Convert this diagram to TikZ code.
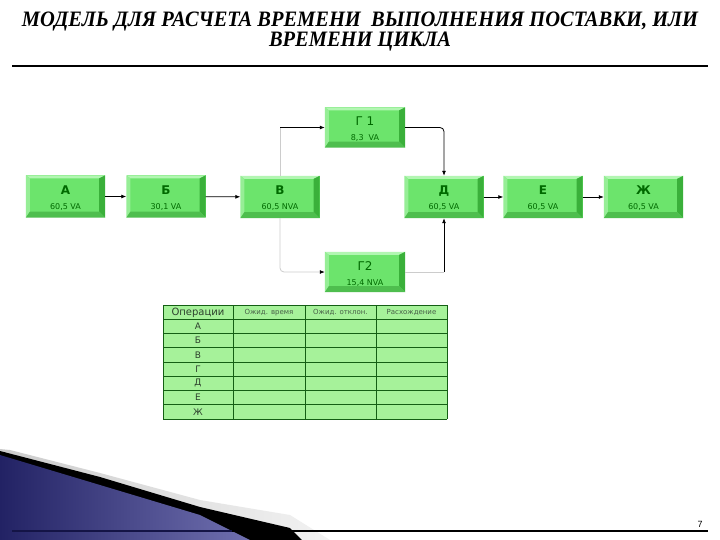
\documentclass[tikz,border=0pt]{standalone}
\usepackage{fontspec}
\setmainfont{Liberation Serif}
\newfontfamily\boxfont{DejaVu Sans}
\newfontfamily\numfont{Liberation Sans}
\usetikzlibrary{arrows.meta,calc}
\definecolor{boxface}{RGB}{108,228,108}
\definecolor{bevtop}{RGB}{178,246,178}
\definecolor{bevleft}{RGB}{150,238,150}
\definecolor{bevright}{RGB}{58,176,58}
\definecolor{bevbottom}{RGB}{78,190,78}
\definecolor{boxtext}{RGB}{0,105,0}
\definecolor{tabfill}{RGB}{166,242,154}
\definecolor{tabline}{RGB}{20,95,20}
\definecolor{tabtext}{RGB}{45,65,45}
\definecolor{tabsmall}{RGB}{70,95,70}
\definecolor{navyL}{RGB}{34,34,100}
\definecolor{navyR}{RGB}{112,112,176}
\definecolor{navyline}{RGB}{20,20,70}
\tikzset{
  opbox/.style={minimum width=79pt, minimum height=42pt, inner sep=0pt, fill=boxface, draw=none},
  optitle/.style={anchor=base, inner sep=0pt, text=boxtext, font=\boxfont\fontsize{12}{12}\selectfont\bfseries},
  opval/.style={anchor=base, inner sep=0pt, text=boxtext, font=\boxfont\fontsize{8}{8}\selectfont},
  arr/.style={draw=black, line width=0.8pt, -{Latex[length=5pt,width=4pt]}},
  faint/.style={draw=black!20, line width=0.8pt},
  titletext/.style={anchor=base, inner sep=0pt, font=\fontsize{22}{22}\selectfont\bfseries\itshape},
  tabl/.style={draw=tabline, line width=0.8pt},
  hdr/.style={inner sep=0pt, text=tabtext, font=\boxfont\fontsize{10}{10}\selectfont},
  hdrs/.style={inner sep=0pt, text=tabsmall, font=\boxfont\fontsize{7}{7}\selectfont},
  rowl/.style={inner sep=0pt, text=tabtext, font=\boxfont\fontsize{9}{9}\selectfont}
}
\newcommand\opbox[5]{%
  \node[opbox, #5] (#1) at (#2) {};
  \fill[bevtop] (#1.north west) -- (#1.north east) -- ([xshift=-6pt,yshift=-3pt]#1.north east) -- ([xshift=4pt,yshift=-3pt]#1.north west) -- cycle;
  \fill[bevleft] (#1.north west) -- ([xshift=4pt,yshift=-3pt]#1.north west) -- ([xshift=4pt,yshift=6pt]#1.south west) -- (#1.south west) -- cycle;
  \fill[bevright] (#1.north east) -- (#1.south east) -- ([xshift=-6pt,yshift=6pt]#1.south east) -- ([xshift=-6pt,yshift=-3pt]#1.north east) -- cycle;
  \fill[bevbottom] (#1.south west) -- (#1.south east) -- ([xshift=-6pt,yshift=6pt]#1.south east) -- ([xshift=4pt,yshift=6pt]#1.south west) -- cycle;
  \node[optitle] (#1t) at ([yshift=2pt]#1.center) {#3};
  \node[opval] (#1v) at ([yshift=-13pt]#1.center) {#4};
}
\begin{document}
\begin{tikzpicture}[x=1pt,y=-1pt]
\useasboundingbox (0,0) rectangle (720,540);
\fill[white] (0,0) rectangle (720,540);

% title
\node[titletext] (t1) at (360,27) {\scalebox{0.93}[1]{МОДЕЛЬ ДЛЯ РАСЧЕТА ВРЕМЕНИ\ \ ВЫПОЛНЕНИЯ ПОСТАВКИ, ИЛИ}};
\node[titletext] (t2) at (360,47) {\scalebox{0.93}[1]{ВРЕМЕНИ ЦИКЛА}};
\draw[line width=2.5pt] (12,66) -- (708,66);

% boxes
\opbox{A}{65.5,196.5}{А}{60,5 VA}{}
\opbox{B}{166,196.5}{Б}{30,1 VA}{}
\opbox{V}{280,197}{В}{60,5 NVA}{}
\opbox{G1}{365,127.5}{\mdseries Г 1}{8,3\ \ VA}{minimum width=80pt, minimum height=40pt}
\opbox{G2}{365,272}{\mdseries Г2}{15,4 NVA}{minimum width=80pt, minimum height=40pt}
\opbox{D}{444,197}{Д}{60,5 VA}{}
\opbox{E}{543,197}{Е}{60,5 VA}{}
\opbox{Zh}{643.5,197}{Ж}{60,5 VA}{}

% connectors
\draw[arr] (A) -- (B);
\draw[arr] (B) -- (V);
\coordinate (j1) at (V.north |- G1.west);
\draw[faint] (V.north) -- (j1);
\draw[arr] (j1) -- (G1.west);
\draw[faint, rounded corners=4pt, -{Latex[length=5pt,width=4pt,black]}] (V.south) |- (G2.west);
\draw[arr, rounded corners=4pt] (G1.east) -| (D.north);
\coordinate (j2) at (D.south |- G2.east);
\draw[faint] (G2.east) -- (j2);
\draw[arr] (j2) -- (D.south);
\draw[arr] (D) -- (E);
\draw[arr] (E) -- (Zh);

% table
\fill[tabfill] (163,305) rectangle (447,419);
\foreach \k in {0,...,8} \draw[tabl] (163,305+14.25*\k) -- (447,305+14.25*\k);
\foreach \x in {163,233,305,376,447} \draw[tabl] (\x,305) -- (\x,419);
\node[hdr] (h1) at (198,312.5) {Операции};
\node[hdrs] (h2) at (269,312.5) {Ожид. время};
\node[hdrs] (h3) at (340.5,312.5) {Ожид. отклон.};
\node[hdrs] (h4) at (411.5,312.5) {Расхождение};
\foreach \t [count=\k] in {А,Б,В,Г,Д,Е,Ж}
  \node[rowl] (r\k) at (198,305+14.25*\k+7.1) {\t};

% bottom decoration
\shade[left color=gray!40, right color=gray!10] (0,449) -- (10,450) -- (100,473) -- (200,500) -- (290,515) -- (330,540) -- (0,540) -- cycle;
\fill[black] (0,451) -- (100,477) -- (200,507) -- (290,528) -- (302,540) -- (0,540) -- cycle;
\shade[left color=navyL, right color=navyR] (0,455) -- (100,485) -- (200,515) -- (250,540) -- (0,540) -- cycle;
\draw[line width=2.8pt] (12,531) -- (708,531);
\draw[navyline, line width=2.8pt] (12,531) -- (232,531);
\node[inner sep=0pt, anchor=base, font=\numfont\fontsize{9}{9}\selectfont] (pg) at (700,527) {7};
\end{tikzpicture}
\end{document}
